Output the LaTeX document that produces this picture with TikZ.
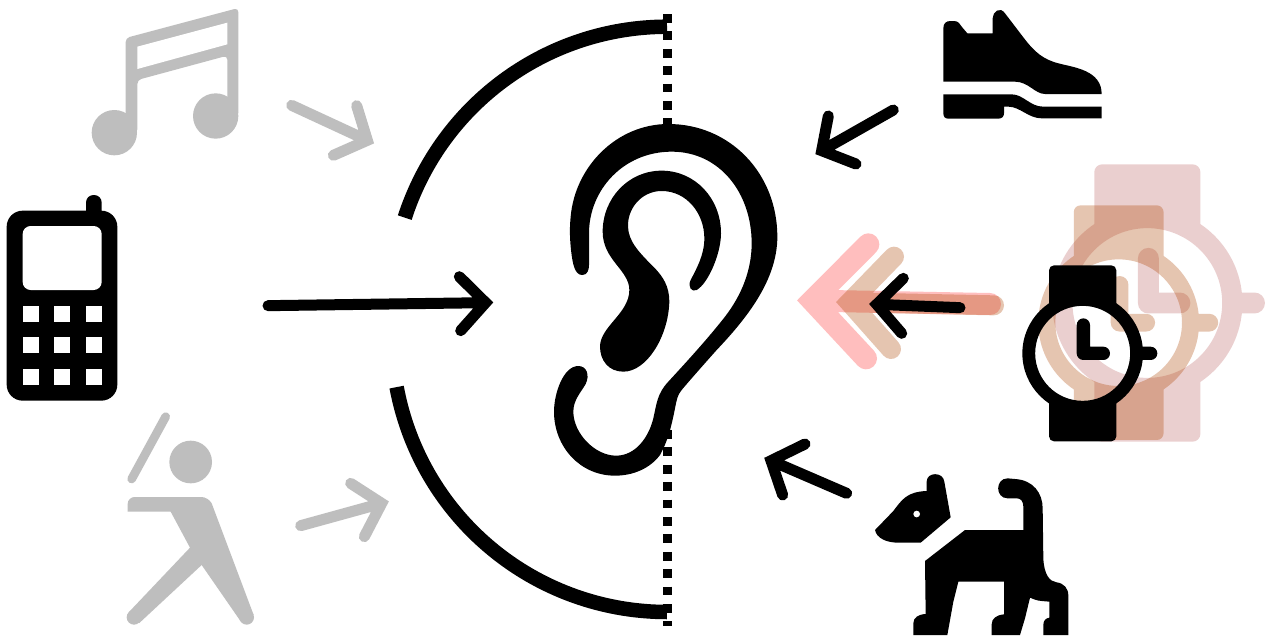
\documentclass[tikz,border=0pt]{standalone}
\definecolor{icongray}{RGB}{190,190,190}
\definecolor{pinkwatch}{RGB}{190,103,103}
\definecolor{tanmark}{RGB}{174,68,0}
\definecolor{pinkarrow}{RGB}{255,190,190}
\tikzset{
  zm/.style 2 args={shift={(#1,#2)},x=.33333pt,y=-.33333pt},
  arrowline/.style={line width=11pt,line cap=round,miter limit=10},
  arcline/.style={line width=14.5pt,line cap=butt},
  dotline/.style={line width=9pt,dash pattern=on 8.8pt off 8.6pt}
}
\newcommand\watchicon[5]{%
  \pgfmathsetmacro\wsc{#3/3}
  \pgfmathsetmacro\wlw{#3*13.3}
  \pgfmathsetmacro\wrc{#3*5}
  \begin{scope}[transparency group,opacity=#5,shift={(#1,#2)},x=\wsc pt,y=-\wsc pt]
    \fill[#4,even odd rule] (0,0) circle[radius=181] (0,0) circle[radius=142.5];
    \fill[#4,rounded corners=\wrc pt] (-101,-148) -- (-101,-264) -- (101,-264) -- (101,-148);
    \fill[#4,rounded corners=\wrc pt] (-101,148) -- (-101,264) -- (101,264) -- (101,148);
    \draw[#4,line cap=round,line width=\wlw pt] (170,0) -- (204,0);
    \draw[#4,line cap=round,line join=round,line width=\wlw pt] (2,-85) -- (2,0) -- (62,0);
  \end{scope}%
}
\begin{document}
\begin{tikzpicture}[x=1pt,y=-1pt]
\useasboundingbox (0,0) rectangle (1265,635);
\fill[white] (0,0) rectangle (1265,635);

% dotted midline
\draw[dotline] (667.2,14) -- (667.2,125);
\draw[dotline] (667.2,430) -- (667.2,626);

% arcs
\draw[arcline] plot[domain=162.1:90,samples=70] ({667+275.6*cos(\x)},{302.3-275.6*sin(\x)});
\draw[arcline] plot[domain=169.5:90,samples=70] ({667+275*cos(\x)},{337+275*sin(\x)});

% ear
\begin{scope}[zm={540}{110}]
\fill (127,495)
 .. controls (105,495) and (98,465) .. (93,420)
 .. controls (90,390) and (88,360) .. (92,320)
 .. controls (105,170) and (230,42) .. (385,42)
 .. controls (570,42) and (712,190) .. (712,380)
 .. controls (712,510) and (620,625) .. (530,720)
 .. controls (490,765) and (450,810) .. (425,840)
 .. controls (412,855) and (410,870) .. (405,895)
 .. controls (395,945) and (385,990) .. (360,1035)
 .. controls (330,1075) and (280,1097) .. (225,1097)
 .. controls (120,1097) and (42,1010) .. (42,905)
 .. controls (42,850) and (70,768) .. (115,768)
 .. controls (140,768) and (150,795) .. (137,822)
 .. controls (122,848) and (100,870) .. (100,905)
 .. controls (100,970) and (165,1037) .. (228,1037)
 .. controls (285,1037) and (325,985) .. (340,925)
 .. controls (350,880) and (352,850) .. (385,815)
 .. controls (440,755) and (500,690) .. (555,620)
 .. controls (605,555) and (635,480) .. (635,400)
 .. controls (635,250) and (540,125) .. (395,125)
 .. controls (250,125) and (147,240) .. (147,370)
 -- (147,465) .. controls (147,480) and (142,495) .. (127,495) -- cycle;
\fill (365,182)
 .. controls (465,182) and (543,265) .. (543,370)
 .. controls (543,430) and (505,520) .. (470,540)
 .. controls (455,548) and (442,530) .. (452,510)
 .. controls (470,475) and (493,435) .. (493,385)
 .. controls (493,310) and (440,243) .. (365,243)
 .. controls (305,243) and (262,295) .. (264,350)
 .. controls (265,395) and (300,430) .. (340,470)
 .. controls (370,500) and (388,530) .. (388,575)
 .. controls (385,680) and (320,785) .. (250,785)
 .. controls (205,785) and (180,750) .. (180,710)
 .. controls (180,650) and (268,610) .. (268,540)
 .. controls (268,480) and (188,450) .. (188,365)
 .. controls (188,265) and (265,182) .. (365,182) -- cycle;
\end{scope}

% music
\begin{scope}[zm={80}{0},icongray]
\fill[rounded corners=4pt] (137,400) -- (137,114) -- (475,24) -- (475,350) -- (442,350) -- (442,167) -- (172,240) -- (172,400) -- cycle;
\fill[white] (172,140) -- (442,68) -- (442,133) -- (172,207) -- cycle;
\fill (103,398) circle[radius=68];
\fill (407,348) circle[radius=68];
\end{scope}

% phone
\begin{scope}[zm={0}{190}]
\fill[rounded corners=7.5pt] (258,15) rectangle (305,90);
\fill[rounded corners=16pt] (20,62) rectangle (352,632);
\fill[white,rounded corners=8pt] (68,108) rectangle (305,300);
\foreach \kx in {68,163,258}
  \foreach \ky in {347,442,537}
    \fill[white] (\kx,\ky) rectangle ++(48,48);
\end{scope}

% batter
\begin{scope}[zm={110}{405},icongray]
\fill (242,171) circle[radius=64];
\draw[line width=8.7pt,line cap=round] (65,222) -- (167,35);
\fill (72,637) circle[radius=22];
\fill (410,637) circle[radius=22];
\fill[rounded corners=7pt] (53,320) -- (53,276) -- (295,276) [rounded corners=0pt] -- (305,295) -- (431,630) -- (392,649) -- (275,480) -- (88,654) -- (56,622) -- (240,428) -- (182,320) -- cycle;
\end{scope}

% shoe
\begin{scope}[zm={930}{0}]
\fill (40,245) -- (40,85) .. controls (40,70) and (48,63) .. (62,63) -- (72,63) .. controls (85,63) and (90,72) .. (95,80) -- (112,100) -- (188,100) -- (188,55) .. controls (188,35) and (210,18) .. (225,40) -- (280,112) .. controls (315,158) and (340,178) .. (385,190) .. controls (430,202) and (515,210) .. (515,282) -- (345,282) .. controls (315,282) and (295,245) .. (255,245) -- cycle;
\fill (40,283) -- (245,283) .. controls (280,283) and (300,320) .. (340,320) -- (515,320) -- (515,355) -- (335,355) .. controls (295,355) and (270,320) .. (235,320) -- (222,320) -- (222,340) .. controls (222,350) and (215,356) .. (205,356) -- (55,356) .. controls (45,356) and (40,350) .. (40,340) -- cycle;
\end{scope}

% dog
\begin{scope}[zm={860}{465}]
\fill (45,195) -- (100,138) .. controls (125,105) and (140,80) .. (200,78) -- (200,50) .. controls (200,20) and (250,20) .. (253,50) -- (272,157) -- (182,233) -- (115,233) .. controls (80,233) and (50,220) .. (45,195) -- cycle;
\fill[white] (170,147) circle[radius=10];
\fill (195,288) -- (315,195) -- (490,195) -- (490,125) .. controls (490,108) and (482,100) .. (470,100) -- (443,100) .. controls (405,100) and (405,40) .. (443,40) -- (465,42) .. controls (520,45) and (548,85) .. (548,130) -- (550,280) .. controls (552,330) and (570,350) .. (590,352) .. controls (612,355) and (625,370) .. (625,392) -- (625,510) -- (550,510) -- (550,480) .. controls (550,465) and (558,460) .. (568,458) -- (568,410) -- (545,408) .. controls (530,407) and (520,402) .. (510,398) -- (495,460) -- (480,510) -- (395,510) -- (395,478) .. controls (395,460) and (410,450) .. (432,448) -- (432,350) -- (295,350) -- (280,410) -- (262,510) -- (160,510) -- (160,475) .. controls (160,458) and (175,448) .. (197,447) -- cycle;
\end{scope}

% arrows
\begin{scope}[zm={260}{80}]
\draw[arrowline,icongray] (95,76) -- (322,181) (290,77) -- (322,181) -- (220,226);
\draw[arrowline] (24,677) -- (677,668) (598,590) -- (677,668) -- (602,752);
\end{scope}
\begin{scope}[zm={280}{370}]
\draw[arrowline,icongray] (62,467) -- (305,400) (212,340) -- (305,400) -- (253,500);
\end{scope}
\begin{scope}[zm={750}{90}]
\draw[arrowline] (430,60) -- (215,182) (235,78) -- (215,182) -- (318,222);
\end{scope}
\begin{scope}[zm={750}{430}]
\draw[arrowline] (290,190) -- (63,92) (165,42) -- (63,92) -- (98,195);
\end{scope}

% ghost watches
\watchicon{1147.33}{303}{1.576}{pinkwatch}{.31}
\watchicon{1118.67}{322.67}{1.333}{tanmark}{.31}

% ghost arrows and the dark arrow
\begin{scope}[zm={790}{150}]
\draw[pinkarrow,line width=22pt,line cap=round,miter limit=10] (67,452) -- (600,462) (235,283) -- (67,452) -- (228,625);
\draw[tanmark,opacity=.31,line width=20pt,line cap=round,miter limit=10] (179,457) -- (612,466) (312,320) -- (179,457) -- (303,597);
\draw[arrowline] (260,463) -- (510,473) (340,385) -- (260,463) -- (335,550);
\end{scope}

\watchicon{1082.67}{353.33}{1}{black}{1}
\end{tikzpicture}
\end{document}
